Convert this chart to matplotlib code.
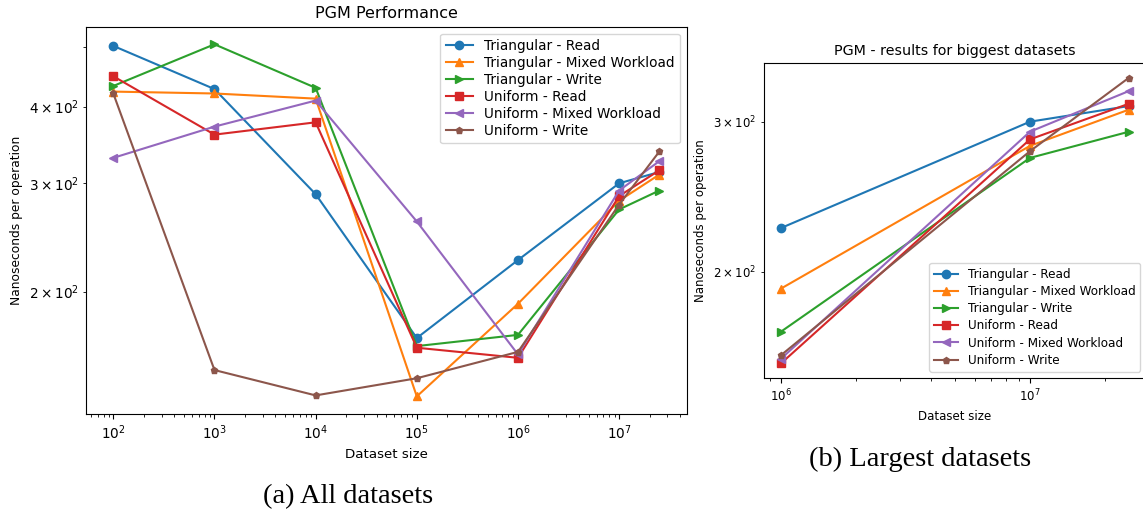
import matplotlib
matplotlib.use("Agg")
import matplotlib.pyplot as plt

# ---- data ----
sizes = [1e2, 1e3, 1e4, 1e5, 1e6, 1e7, 2.5e7]
tri_read = [502, 427, 288, 168, 225, 300, 313]
tri_mixed = [423, 420, 412, 135, 191, 281, 310]
tri_write = [432, 505, 429, 163, 170, 272, 292]
uni_read = [448, 360, 377, 162, 156, 286, 315]
uni_mixed = [330, 371, 409, 260, 158, 292, 326]
uni_write = [420, 149, 135.5, 144.5, 159.5, 277, 338]

labels = ["Triangular - Read", "Triangular - Mixed Workload", "Triangular - Write",
          "Uniform - Read", "Uniform - Mixed Workload", "Uniform - Write"]
series = [tri_read, tri_mixed, tri_write, uni_read, uni_mixed, uni_write]
markers = ["o", "^", ">", "s", "<", "p"]
colors = ["#1f77b4", "#ff7f0e", "#2ca02c", "#d62728", "#9467bd", "#8c564b"]
big_start = 4  # index of 1e6

plt.rcParams["font.family"] = ["DejaVu Sans"]

fig = plt.figure(figsize=(11.43, 5.14), dpi=100)

# ---- left: all datasets ----
W, H = 1143.0, 514.0
axL = fig.add_axes([86 / W, 1 - 414 / H, 600.7 / W, 387.3 / H])
for ys, lab, m, c in zip(series, labels, markers, colors):
    axL.plot(sizes, ys, marker=m, color=c, label=lab, lw=1.5,
             ms=5 if m == "p" else 6)
axL.set_xscale("log")
axL.set_yscale("log")
axL.set_title("PGM Performance", fontsize=11.5)
axL.set_xlabel("Dataset size", fontsize=9.6)
axL.set_ylabel("Nanoseconds per operation", fontsize=8.8)
axL.tick_params(axis="both", which="both", labelsize=9.8)
axL.legend(loc="upper right", fontsize=9.8, labelspacing=0.22)

# ---- right: biggest datasets ----
axR = fig.add_axes([763.6 / W, 1 - 377.7 / H, 382.9 / W, 314.4 / H])
for ys, lab, m, c in zip(series, labels, markers, colors):
    axR.plot(sizes[big_start:], ys[big_start:], marker=m, color=c, label=lab,
             lw=1.5, ms=5 if m == "p" else 6)
axR.set_xscale("log")
axR.set_yscale("log")
axR.set_title("PGM - results for biggest datasets", fontsize=10.3)
axR.set_xlabel("Dataset size", fontsize=8.5)
axR.set_ylabel("Nanoseconds per operation", fontsize=8.5)
axR.tick_params(axis="both", which="both", labelsize=8.5)
axR.legend(loc="lower right", fontsize=8.65, labelspacing=0.35)

# ---- captions ----
fig.text(348 / W, 1 - 496.5 / H, "(a) All datasets", ha="center", va="center",
         fontsize=20.5, family=["Liberation Serif", "DejaVu Serif"])
fig.text(920 / W, 1 - 459 / H, "(b) Largest datasets", ha="center", va="center",
         fontsize=20.5, family=["Liberation Serif", "DejaVu Serif"])

fig.savefig("out.png", dpi=100)
